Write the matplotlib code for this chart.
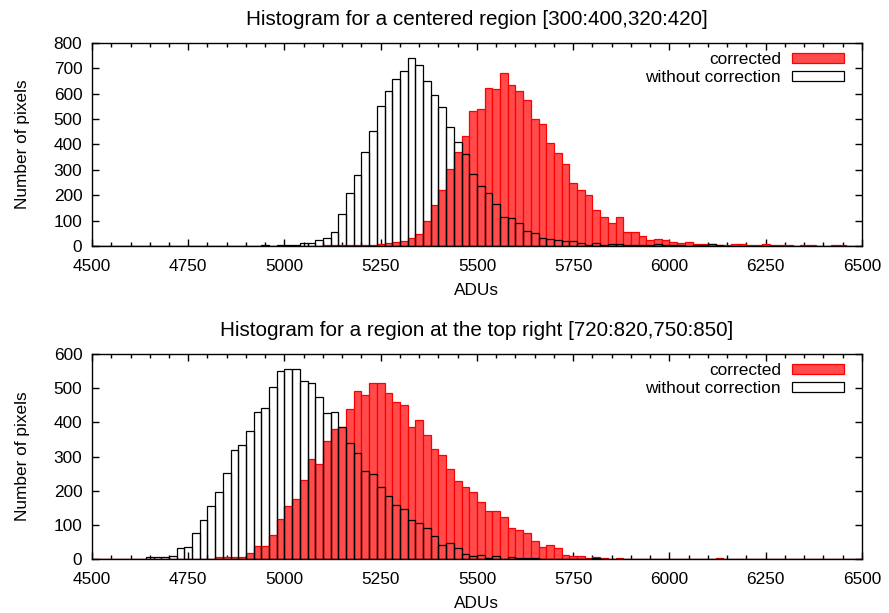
import numpy as np
import matplotlib
matplotlib.use("Agg")
import matplotlib.pyplot as plt
from matplotlib.ticker import MultipleLocator

plt.rcParams['font.family'] = ['Liberation Sans', 'DejaVu Sans']
plt.rcParams['font.size'] = 12.4

# histogram bins: 20 ADU wide, starting at 4500
adu_start = 4500
bin_width = 20

# centered region [300:400,320:420]
center_corrected = [
    0, 0, 0, 0, 0, 1, 0, 0, 0, 1,
    0, 0, 0, 0, 0, 0, 0, 0, 0, 0,
    0, 0, 0, 0, 0, 0, 0, 1, 1, 1,
    2, 2, 2, 3, 3, 4, 5, 8, 10, 16,
    20, 33, 47, 100, 160, 222, 302, 371, 434, 531,
    541, 621, 619, 682, 633, 612, 576, 501, 482, 407,
    367, 323, 248, 221, 200, 141, 115, 89, 114, 56,
    54, 38, 23, 27, 24, 15, 11, 16, 8, 9,
    7, 3, 2, 6, 6, 2, 2, 7, 3, 2,
    3, 1, 2, 3, 1, 1, 3, 2, 1, 0,
]
center_raw = [
    0, 0, 0, 0, 0, 0, 0, 0, 0, 0,
    0, 0, 0, 0, 0, 0, 0, 0, 0, 0,
    1, 0, 2, 1, 3, 3, 4, 12, 10, 24,
    33, 55, 127, 209, 281, 369, 454, 552, 610, 660,
    688, 742, 714, 651, 594, 547, 470, 411, 364, 283,
    236, 210, 164, 114, 109, 92, 59, 51, 33, 29,
    25, 18, 19, 11, 5, 11, 5, 8, 8, 4,
    3, 4, 2, 8, 3, 2, 2, 1, 3, 5,
    6, 2, 1, 1, 0, 0, 0, 1, 0, 0,
    0, 0, 0, 0, 0, 0, 0, 0, 0, 0,
]

# top right region [720:820,750:850]
corner_corrected = [
    0, 0, 0, 0, 0, 0, 0, 0, 0, 0,
    0, 0, 0, 0, 0, 1, 6, 6, 6, 6,
    18, 38, 38, 70, 118, 156, 177, 231, 292, 278,
    346, 380, 386, 439, 493, 480, 515, 515, 485, 459,
    451, 386, 406, 362, 322, 306, 265, 229, 212, 196,
    168, 141, 141, 123, 91, 85, 76, 54, 35, 41,
    32, 14, 10, 10, 3, 6, 3, 2, 3, 1,
    1, 2, 1, 0, 1, 0, 0, 0, 0, 0,
    0, 4, 0, 0, 0, 0, 0, 0, 0, 0,
    2, 0, 0, 0, 0, 0, 0, 0, 0, 0,
]
corner_raw = [
    0, 0, 1, 0, 0, 0, 0, 7, 6, 6,
    10, 33, 35, 76, 114, 157, 196, 251, 320, 333,
    375, 430, 442, 502, 549, 556, 557, 520, 515, 473,
    427, 429, 386, 339, 310, 259, 250, 211, 185, 158,
    148, 114, 106, 90, 69, 41, 47, 34, 15, 11,
    12, 3, 9, 2, 6, 4, 3, 3, 2, 2,
    1, 1, 0, 1, 1, 3, 1, 0, 0, 0,
    0, 0, 0, 0, 0, 0, 0, 0, 0, 0,
    0, 0, 0, 0, 0, 0, 0, 0, 0, 0,
    0, 0, 0, 0, 0, 0, 0, 0, 0, 0,
]

titles = [
    'Histogram for a centered region [300:400,320:420]',
    'Histogram for a region at the top right [720:820,750:850]',
]


def draw_hist(ax, corrected, raw, title, ymax, legend_y):
    edges = adu_start + bin_width * np.arange(len(corrected))
    ax.bar(edges, corrected, width=bin_width, align='edge',
           facecolor='#ff4b4b', edgecolor='red', linewidth=0.9,
           label='corrected', zorder=2)
    ax.bar(edges, raw, width=bin_width, align='edge',
           facecolor='none', edgecolor='black', linewidth=0.9,
           label='without correction', zorder=3)
    ax.set_xlim(4500, 6500)
    ax.set_ylim(0, ymax)
    ax.xaxis.set_major_locator(MultipleLocator(250))
    ax.xaxis.set_minor_locator(MultipleLocator(50))
    ax.yaxis.set_major_locator(MultipleLocator(100))
    ax.tick_params(which='both', direction='in', top=True, right=True)
    ax.tick_params(which='major', length=5, width=1)
    ax.tick_params(which='minor', length=2.7, width=1)
    ax.tick_params(axis='x', pad=9.5)
    ax.tick_params(axis='y', pad=7)
    for s in ax.spines.values():
        s.set_linewidth(1)
    ax.set_xlabel('ADUs', labelpad=6)
    ax.set_ylabel('Number of pixels', labelpad=17)
    ax.set_title(title, pad=13)
    ax.legend(loc='upper right', bbox_to_anchor=(0.9766, legend_y),
              frameon=False, markerfirst=False,
              handlelength=3.0, handleheight=0.52, handletextpad=0.65,
              labelspacing=0.15, borderaxespad=0.0, borderpad=0.0)


fig = plt.figure(figsize=(8.89, 6.13), dpi=100)
ax1 = fig.add_axes([0.1035, 0.5987, 0.866, 0.3312])
ax2 = fig.add_axes([0.1035, 0.0876, 0.866, 0.3350])

draw_hist(ax1, center_corrected, center_raw, titles[0], 800, 0.955)
draw_hist(ax2, corner_corrected, corner_raw, titles[1], 600, 0.955)

fig.savefig('out.png', dpi=100)
